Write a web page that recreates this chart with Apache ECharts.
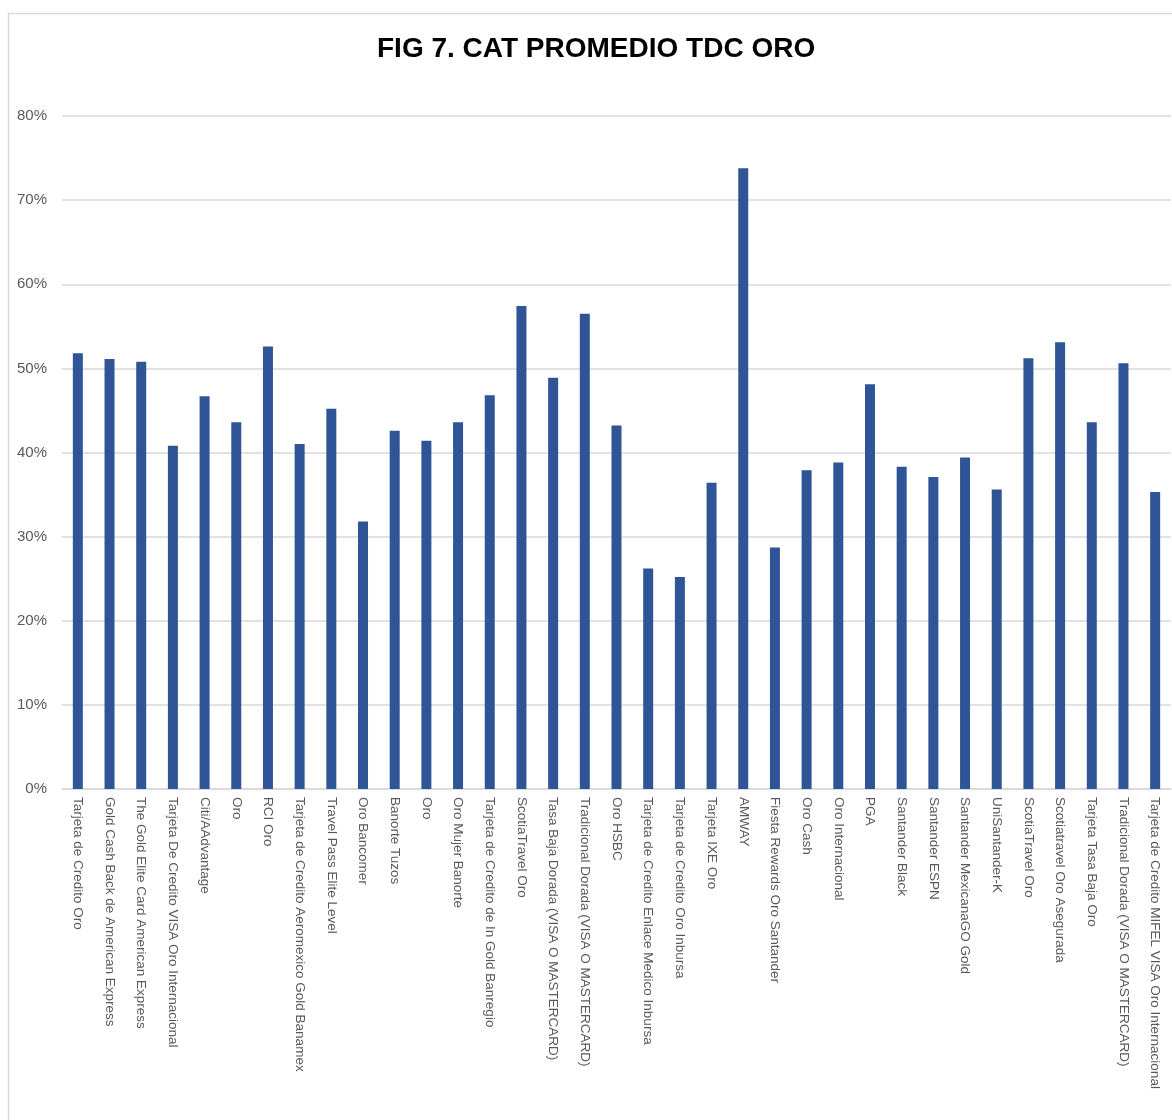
<!DOCTYPE html>
<html>
<head>
<meta charset="utf-8">
<script src="https://cdn.jsdelivr.net/npm/echarts@6/dist/echarts.min.js"></script>
<style>
  html, body { margin: 0; padding: 0; background: #fff; }
  #main { width: 1172px; height: 1120px; }
</style>
</head>
<body>
<div id="main"></div>
<script>
// tarjetas (categorias del eje x)
var tarjetas = [
  'Tarjeta de Credito Oro',
  'Gold Cash Back de American Express',
  'The Gold Elite Card American Express',
  'Tarjeta De Credito VISA Oro Internacional',
  'Citi/AAdvantage',
  'Oro',
  'RCI Oro',
  'Tarjeta de Credito Aeromexico Gold Banamex',
  'Travel Pass Elite Level',
  'Oro Bancomer',
  'Banorte Tuzos',
  'Oro ',
  'Oro Mujer Banorte',
  'Tarjeta de Credito de In Gold Banregio',
  'ScotiaTravel Oro',
  'Tasa Baja Dorada (VISA O MASTERCARD)',
  'Tradicional Dorada (VISA O MASTERCARD)',
  'Oro HSBC',
  'Tarjeta de Credito Enlace Medico Inbursa',
  'Tarjeta de Credito Oro Inbursa',
  'Tarjeta IXE Oro',
  'AMWAY',
  'Fiesta Rewards Oro Santander',
  'Oro Cash',
  'Oro Internacional',
  'PGA',
  'Santander Black',
  'Santander ESPN',
  'Santander MexicanaGO Gold',
  'UniSantander-K',
  'ScotiaTravel Oro ',
  'Scotiatravel Oro Asegurada',
  'Tarjeta Tasa Baja Oro',
  'Tradicional Dorada (VISA O MASTERCARD) ',
  'Tarjeta de Credito MIFEL VISA Oro Internacional'
];

// CAT promedio (fraccion)
var catPromedio = [
  0.518, 0.511, 0.508, 0.408, 0.467, 0.436, 0.526, 0.410, 0.452, 0.318,
  0.426, 0.414, 0.436, 0.468, 0.574, 0.489, 0.565, 0.432, 0.262, 0.252,
  0.364, 0.738, 0.287, 0.379, 0.388, 0.481, 0.383, 0.371, 0.394, 0.356,
  0.512, 0.531, 0.436, 0.506, 0.353
];

var titulo = 'FIG 7. CAT PROMEDIO TDC ORO';

var chart = echarts.init(document.getElementById('main'));

var option = {
  animation: false,
  backgroundColor: '#fff',
  graphic: [{
    type: 'rect',
    left: 6,
    top: 11,
    shape: { width: 1300, height: 1300 },
    style: { fill: 'none', stroke: '#D9D9D9', lineWidth: 1.5 },
    silent: true
  }],
  title: {
    text: titulo,
    left: 372,
    top: 30,
    textStyle: {
      fontFamily: 'Liberation Sans, Arial, sans-serif',
      fontSize: 28,
      fontWeight: 'bold',
      color: '#000'
    }
  },
  grid: {
    left: 62,
    right: 1,
    top: 116,
    bottom: 331,
    containLabel: false
  },
  xAxis: {
    type: 'category',
    data: tarjetas,
    axisLine: { lineStyle: { color: '#D9D9D9', width: 1.5 } },
    axisTick: { show: false },
    axisLabel: {
      interval: 0,
      rotate: -90,
      margin: 8,
      color: '#595959',
      fontFamily: 'Liberation Sans, Arial, sans-serif',
      fontSize: 13.5
    }
  },
  yAxis: {
    type: 'value',
    min: 0,
    max: 0.8,
    interval: 0.1,
    axisLine: { show: false },
    axisTick: { show: false },
    splitLine: { lineStyle: { color: '#D9D9D9', width: 1.5 } },
    axisLabel: {
      margin: 15,
      color: '#595959',
      fontFamily: 'Liberation Sans, Arial, sans-serif',
      fontSize: 15,
      formatter: function (v) { return Math.round(v * 100) + '%'; }
    }
  },
  series: [{
    name: 'CAT Promedio',
    type: 'bar',
    data: catPromedio,
    barWidth: 10,
    itemStyle: { color: '#2F5597' }
  }]
};

chart.setOption(option);
</script>
</body>
</html>
